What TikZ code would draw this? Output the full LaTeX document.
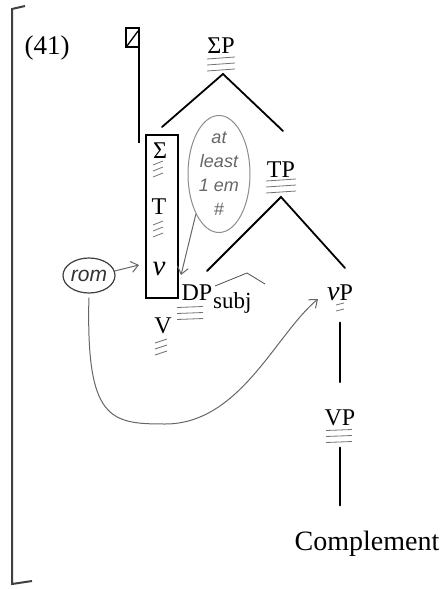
\documentclass[tikz,border=0pt]{standalone}
\usepackage{fontspec}
\setmainfont{Liberation Serif}
\newfontfamily\handfont{Liberation Sans}
\usetikzlibrary{shapes.geometric,arrows.meta}
\tikzset{
  lab/.style={font=\fontsize{24}{26}\selectfont, inner sep=0pt, anchor=base},
  branch/.style={line width=1.8pt, line cap=round},
  pencil/.style={draw=black!55, line width=0.8pt},
  hand/.style={font=\handfont\itshape\fontsize{18}{24}\selectfont, text=black!60, align=center},
  balloon/.style={ellipse, draw=black!45, line width=1pt, inner sep=0pt},
  pointer/.style={draw=black!60, line width=1pt, -{Straight Barb[length=7pt,width=11pt]}}
}
% three little pencil strokes under a label: x, y, half width, rise
\newcommand{\squig}[4]{%
  \foreach \dy in {0,6,12}
    \draw[pencil] (#1-#3,#2+\dy+#4) -- (#1+#3,#2+\dy-#4);}
\begin{document}
\begin{tikzpicture}[x=1pt,y=-1pt]
\useasboundingbox (0,0) rectangle (445,589);
% bracket on the left
\draw[line width=2pt, black!75] (25,6) -- (12,9) -- (12,584) -- (32,581);
\node[font=\fontsize{27}{30}\selectfont, inner sep=0pt, anchor=base] (exno) at (47,54) {(41)};
% crossed box and its stem
\draw[line width=1.3pt] (126,28) rectangle (139,47);
\draw[line width=1.3pt] (127,46) -- (138,31);
\draw[line width=1.3pt] (139,47) -- (139,143);

% SigmaP
\node[lab] (sP) at (221,53) {ΣP};
\squig{221}{58}{14}{1}
\coordinate (sPfoot) at (223,74);
\coordinate (sPleft) at (162,127);
\coordinate (sPright) at (283,131);
\draw[branch] (sPleft) -- (sPfoot) -- (sPright);

% TP
\node[lab] (TP) at (281,177) {TP};
\squig{281}{180}{15}{1}
\coordinate (TPfoot) at (281,197);
\coordinate (TPleft) at (207,271);
\coordinate (TPright) at (345,268);
\draw[branch] (TPleft) -- (TPfoot) -- (TPright);

% the head box
\node[draw, line width=1.5pt, minimum width=32pt, minimum height=163pt, inner sep=0pt] (head) at (162,216.5) {};
\node[lab] (sig) at (160,158) {Σ};
\squig{158}{163}{5}{2}
\node[lab] (T) at (159,214) {T};
\squig{158}{223}{5}{2}
\node[lab] (v) at (159,275) {\fontsize{29}{30}\selectfont\textit{v}};

% DP subj and V
\node[lab] (DP) at (197,300) {DP};
\squig{190}{307}{13}{0.5}
\node[lab, anchor=base west, font=\fontsize{23}{25}\selectfont] (subj) at (213,308) {subj};
\draw[line width=0.8pt, black!70] (215,286) -- (247,273) -- (265,284);
\node[lab] (V) at (163,333) {V};
\squig{161}{341}{6}{2}

% vP, VP, Complement
\node[lab] (vP) at (340,300) {{\fontsize{28}{30}\selectfont\textit{v}}P};
\foreach \dy in {304,310} \draw[pencil] (336,\dy+1) -- (344,\dy-1);
\node[lab] (VP) at (340,425) {VP};
\squig{339}{430}{13}{0.5}
\node[lab, font=\fontsize{28}{30}\selectfont] (comp) at (367,550) {Complement};
\draw[branch, shorten <=22pt, shorten >=27pt] (vP) -- (VP);
\draw[branch, shorten <=22pt, shorten >=25pt] (VP.south) -- (VP.south |- comp.north);

% pencil notes
\node[balloon, hand, minimum width=62pt, minimum height=117pt, inner ysep=-8pt] (note) at (219,174) {at\\least\\1 em\\\#};
\node[balloon, draw=black!75, line width=1.2pt, minimum width=52pt, minimum height=35pt,
      font=\handfont\itshape\fontsize{21}{22}\selectfont, text=black!80] (rom) at (89,275.5) {rom};
\coordinate (vleft) at (139,265);
\coordinate (vright) at (181,275);
\coordinate (low) at (165,424);
\coordinate (vPin) at (318,299);
\draw[pointer] (note.240) -- (vright);
\draw[pointer] (rom.10) -- (vleft);
\draw[pointer, shorten <=4pt] (rom.south) .. controls (86,420) and (110,424) .. (low)
  .. controls (240,424) and (275,335) .. (vPin);
\end{tikzpicture}
\end{document}
